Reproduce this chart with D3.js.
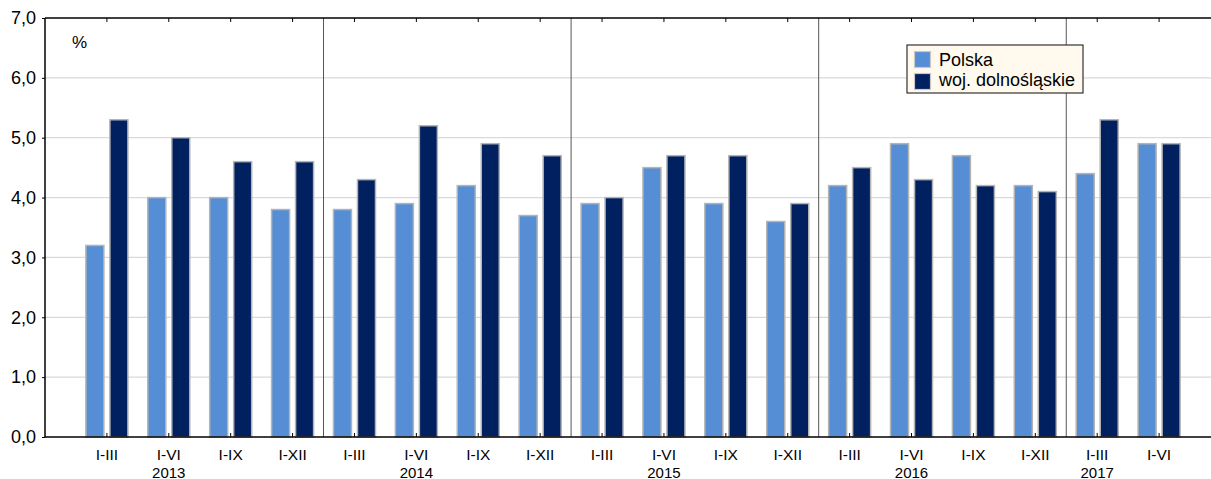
<!DOCTYPE html>
<html><head><meta charset="utf-8">
<script src="https://cdn.jsdelivr.net/npm/d3@7"></script>
<style>body{margin:0;background:#fff;}svg{display:block;font-family:"Liberation Sans",Arial,sans-serif;}</style>
</head><body>
<svg id="c" width="1211" height="479"></svg>
<script>
const periods = ["I-III","I-VI","I-IX","I-XII","I-III","I-VI","I-IX","I-XII","I-III","I-VI","I-IX","I-XII","I-III","I-VI","I-IX","I-XII","I-III","I-VI"];
const years = ["2013","2013","2013","2013","2014","2014","2014","2014","2015","2015","2015","2015","2016","2016","2016","2016","2017","2017"];
const yearLabelAt = [1, 5, 9, 13, 16];
const polska = [3.2,4.0,4.0,3.8, 3.8,3.9,4.2,3.7, 3.9,4.5,3.9,3.6, 4.2,4.9,4.7,4.2, 4.4,4.9];
const dolnoslaskie = [5.3,5.0,4.6,4.6, 4.3,5.2,4.9,4.7, 4.0,4.7,4.7,3.9, 4.5,4.3,4.2,4.1, 5.3,4.9];
const seriesNames = ["Polska","woj. dolnośląskie"];
const yTicks = [0,1,2,3,4,5,6,7];
const colors = ["#558ed5","#002060"];

const svg = d3.select("#c");
const L = 45, R = 1221, T = 18, B = 437;
const idx = periods.map((d,i)=>i);
const x = d3.scaleBand().domain(idx).range([L,R]).paddingInner(0).paddingOuter(0.5);
const y = d3.scaleLinear().domain([0,7]).range([B,T]);
const fmt = v => d3.format(".1f")(v).replace(".", ",");

// gridlines
svg.append("g").selectAll("line").data(yTicks.filter(v=>v>0 && v<7)).join("line")
  .attr("x1",L).attr("x2",1211).attr("y1",d=>y(d)).attr("y2",d=>y(d))
  .attr("stroke","#d9d9d9").attr("stroke-width",1.2);

// year separators
const seps = [];
for (let i=1;i<years.length;i++) if (years[i]!==years[i-1]) seps.push(i);
svg.append("g").selectAll("line").data(seps).join("line")
  .attr("x1",d=>x(d)).attr("x2",d=>x(d)).attr("y1",T).attr("y2",B)
  .attr("stroke","#555").attr("stroke-width",1);

// bars
const bw = 18, off = 12;
const data = [polska, dolnoslaskie];
data.forEach((vals,s)=>{
  svg.append("g").selectAll("rect").data(vals).join("rect")
    .attr("x",(d,i)=>x(i)+x.bandwidth()/2 + (s===0?-off:off) - bw/2)
    .attr("y",d=>y(d)).attr("width",bw).attr("height",d=>B-y(d))
    .attr("fill",colors[s]).attr("stroke","#b4b4b4").attr("stroke-width",1.5);
});

// top border with ticks
const topAx = svg.append("g").attr("transform",`translate(0,${T})`)
  .call(d3.axisTop(x).tickSize(-4).tickFormat(""));
topAx.select(".domain").attr("d",`M${L},0H1211`).attr("stroke","#000").attr("stroke-width",1.5);
topAx.selectAll(".tick line").attr("stroke","#000");

// bottom axis
const bot = svg.append("g").attr("transform",`translate(0,${B})`)
  .call(d3.axisBottom(x).tickSize(-4).tickFormat(i=>periods[i]).tickPadding(12));
bot.select(".domain").attr("d",`M${L},0H1211`).attr("stroke","#000").attr("stroke-width",1.5);
bot.selectAll(".tick line").attr("stroke","#000");
bot.selectAll(".tick text").attr("font-size",15.5).attr("fill","#000").attr("font-family","Liberation Sans, Arial, sans-serif");

// year labels
svg.append("g").selectAll("text").data(yearLabelAt).join("text")
  .attr("x",i=>x(i)+x.bandwidth()/2).attr("y",478).attr("text-anchor","middle")
  .attr("font-size",15).text(i=>years[i]);

// left axis
const leftAx = svg.append("g").attr("transform",`translate(${L},0)`)
  .call(d3.axisLeft(y).tickValues(yTicks).tickFormat(fmt).tickSize(3).tickPadding(6));
leftAx.select(".domain").attr("d",`M0,${B}V${T}`).attr("stroke","#000").attr("stroke-width",1.5);
leftAx.selectAll(".tick text").attr("font-size",18).attr("fill","#000").attr("font-family","Liberation Sans, Arial, sans-serif");

// unit
svg.append("text").attr("x",72).attr("y",48).attr("font-size",17).text("%");

// legend
const lg = svg.append("g");
lg.append("rect").attr("x",907).attr("y",45).attr("width",176).attr("height",48)
  .attr("fill","#fff9ee").attr("stroke","#333").attr("stroke-width",1.2);
seriesNames.forEach((n,i)=>{
  lg.append("rect").attr("x",914.5).attr("y",51.5+i*22).attr("width",16).attr("height",16)
    .attr("fill",colors[i]).attr("stroke","#c8c8c8").attr("stroke-width",1.2);
  lg.append("text").attr("x",939).attr("y",66+i*20).attr("font-size",18).text(n);
});
</script>
</body></html>
